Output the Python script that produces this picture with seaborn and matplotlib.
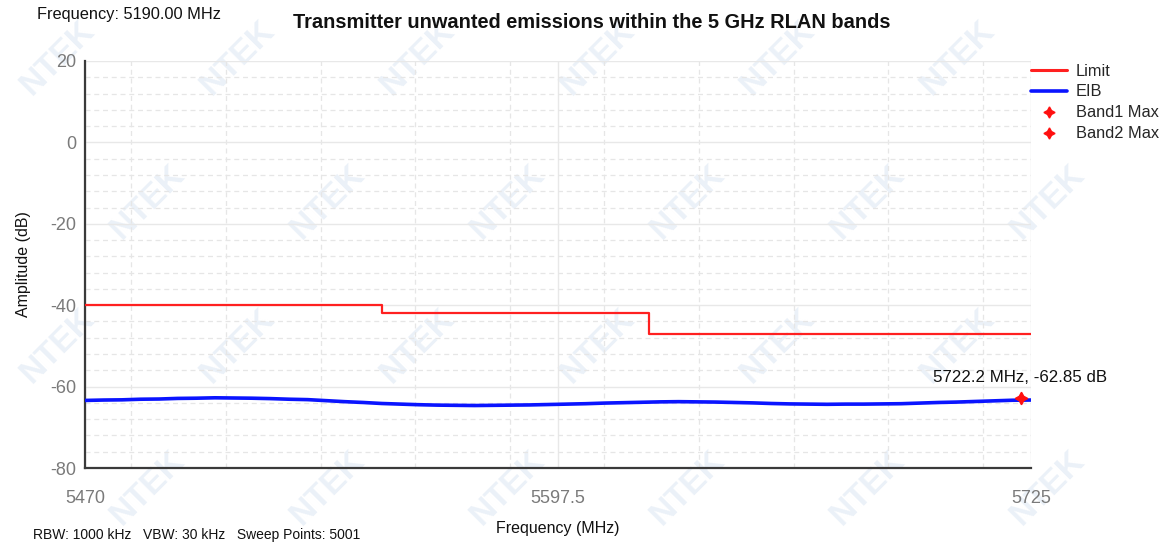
import numpy as np
import pandas as pd
import matplotlib
matplotlib.use("Agg")
import matplotlib.pyplot as plt
from matplotlib.lines import Line2D
from matplotlib.ticker import MultipleLocator
import seaborn as sns

# ---- data ----
limit_freq = [5470, 5550, 5622, 5725]
limit_db = [-40, -42, -47, -47]

eib_start, eib_stop, eib_step = 5470, 5725, 5
eib_db = [
    -63.4, -63.3, -63.25, -63.1, -63.05, -62.9, -62.85, -62.75, -62.8, -62.85,
    -62.95, -63.1, -63.2, -63.45, -63.7, -63.9, -64.15, -64.3, -64.45, -64.55,
    -64.6, -64.65, -64.6, -64.55, -64.5, -64.4, -64.3, -64.2, -64.05, -63.95,
    -63.85, -63.75, -63.7, -63.75, -63.8, -63.9, -64.0, -64.15, -64.25, -64.3,
    -64.35, -64.3, -64.3, -64.25, -64.2, -64.05, -63.9, -63.8, -63.65, -63.5,
    -63.35, -63.3,
]
band2_max_freq = 5722.2
band2_max_db = -62.85

x_ticks = [5470, 5597.5, 5725]
x_tick_labels = ["5470", "5597.5", "5725"]

title = "Transmitter unwanted emissions within the 5 GHz RLAN bands"
header = "Frequency: 5190.00 MHz"
footer = "RBW: 1000 kHz   VBW: 30 kHz   Sweep Points: 5001"

# ---- figure ----
sns.set_style("white")
plt.rcParams["font.family"] = ["Liberation Sans", "DejaVu Sans"]
plt.rcParams["axes.unicode_minus"] = False

fig = plt.figure(figsize=(11.69, 5.43), dpi=100)
ax = fig.add_axes([0.0727, 0.1381, 0.8093, 0.7496])
ax.patch.set_alpha(0)

# faint diagonal watermark tiled over the sheet (kept inside the edges)
for row, y0 in enumerate([58, 202, 346, 488]):
    for x0 in np.arange(58 + (row % 2) * 90, 1115, 180):
        fig.text(x0 / 1169, 1 - y0 / 543, "NTEK", rotation=45, fontsize=24,
                 fontweight="bold", color="#ebf1f8", ha="center", va="center",
                 zorder=-5)

eib_freq = np.arange(eib_start, eib_stop + eib_step / 2, eib_step)
eib = pd.DataFrame({"freq": eib_freq, "db": eib_db})
lim = pd.DataFrame({"freq": limit_freq, "db": limit_db})

sns.lineplot(data=lim, x="freq", y="db", ax=ax, color="#ff2020", lw=1.6,
             drawstyle="steps-post", zorder=3)
sns.lineplot(data=eib, x="freq", y="db", ax=ax, color="#0a14ff", lw=2.6, zorder=4)
ax.plot([band2_max_freq], [band2_max_db], marker=(4, 1, 0), ms=9, color="#ff1010",
        ls="none", zorder=5)
ax.annotate(f"{band2_max_freq} MHz, {band2_max_db} dB",
            xy=(band2_max_freq, band2_max_db), xytext=(-63, 15),
            textcoords="offset points", fontsize=12.2, color="#111111",
            va="center", ha="left")

ax.set_xlim(5470, 5725)
ax.set_ylim(-80, 20)
ax.set_xticks(x_ticks)
ax.set_xticklabels(x_tick_labels)
ax.xaxis.set_minor_locator(MultipleLocator(25.5))
ax.yaxis.set_major_locator(MultipleLocator(20))
ax.yaxis.set_minor_locator(MultipleLocator(4))
ax.grid(which="major", color="#e8e8e8", lw=1.0, ls="-")
ax.grid(which="minor", color="#e6e6e6", lw=0.9, ls=(0, (4, 3)))
ax.set_axisbelow(True)
ax.tick_params(which="both", length=0)
ax.tick_params(axis="both", labelsize=13, labelcolor="#7a7a7a")
ax.tick_params(axis="x", pad=16)
ax.tick_params(axis="y", pad=6)

for side in ("top", "right"):
    ax.spines[side].set_visible(False)
for side in ("left", "bottom"):
    ax.spines[side].set_color("#3a3a3a")
    ax.spines[side].set_linewidth(1.6)

ax.set_xlabel("Frequency (MHz)", fontsize=11.5, color="#111111", labelpad=10)
ax.set_ylabel("Amplitude (dB)", fontsize=11.5, color="#111111", labelpad=14)

fig.text(592 / 1169, 1 - 22 / 543, title, fontsize=14.4, fontweight="bold",
         ha="center", va="center", color="#111111")
fig.text(37 / 1169, 1 - 15 / 543, header, fontsize=11.8, ha="left", va="center",
         color="#111111")
fig.text(33 / 1169, 1 / 543, footer, fontsize=10, ha="left", va="bottom",
         color="#111111")

handles = [
    Line2D([], [], color="#ff2020", lw=2.2),
    Line2D([], [], color="#0a14ff", lw=2.6),
    Line2D([], [], color="#ff1010", marker=(4, 1, 0), ms=8, ls="none"),
    Line2D([], [], color="#ff1010", marker=(4, 1, 0), ms=8, ls="none"),
]
labels = ["Limit", "EIB", "Band1 Max", "Band2 Max"]
fig.legend(handles, labels, loc="upper left", bbox_to_anchor=(1024 / 1169, 1 - 57 / 543),
           frameon=False, fontsize=11.8, handlelength=2.2, handletextpad=0.55,
           labelspacing=0.36, borderaxespad=0)

fig.savefig("out.png", dpi=100)
